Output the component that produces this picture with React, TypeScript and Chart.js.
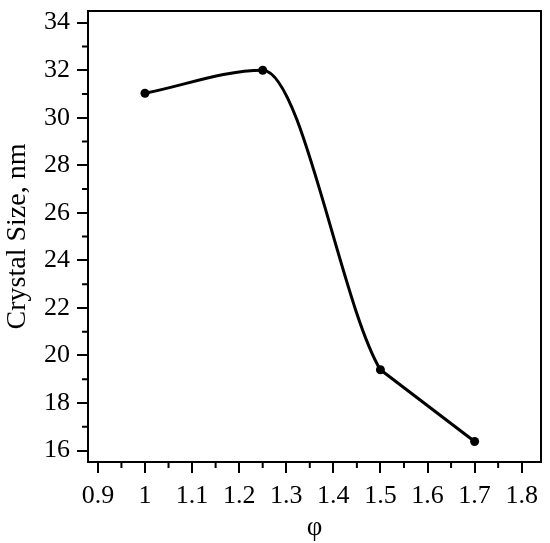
import React, { useEffect, useRef } from "react";
import { Chart, registerables } from "chart.js";

Chart.register(...registerables);

const phi = [1, 1.25, 1.5, 1.7];
const crystalSize = [31.03, 32.0, 19.4, 16.38];
const xMajorTicks = [0.9, 1.0, 1.1, 1.2, 1.3, 1.4, 1.5, 1.6, 1.7, 1.8];
const xMinorTicks = [0.95, 1.05, 1.15, 1.25, 1.35, 1.45, 1.55, 1.65, 1.75];
const yMajorTicks = [16, 18, 20, 22, 24, 26, 28, 30, 32, 34];
const yMinorTicks = [17, 19, 21, 23, 25, 27, 29, 31, 33];

const FONT = '"Liberation Serif", "Times New Roman", serif';

const frameAndMinorTicks = {
  id: "frameAndMinorTicks",
  afterDraw(chart: any) {
    const { ctx, chartArea, scales } = chart;
    const { left, right, top, bottom } = chartArea;
    ctx.save();
    ctx.strokeStyle = "#000";
    ctx.lineWidth = 2;
    ctx.beginPath();
    ctx.moveTo(left - 1, top);
    ctx.lineTo(right, top);
    ctx.lineTo(right, bottom);
    ctx.stroke();
    ctx.beginPath();
    for (const v of xMinorTicks) {
      const px = scales.x.getPixelForValue(v);
      ctx.moveTo(px, bottom);
      ctx.lineTo(px, bottom + 6);
    }
    for (const v of yMinorTicks) {
      const py = scales.y.getPixelForValue(v);
      ctx.moveTo(left, py);
      ctx.lineTo(left - 6, py);
    }
    ctx.stroke();
    ctx.restore();
  },
};

export default function App() {
  const ref = useRef<HTMLCanvasElement | null>(null);
  useEffect(() => {
    if (!ref.current) return;
    const pts = phi.map((x, i) => ({ x, y: crystalSize[i] }));
    const chart = new Chart(ref.current, {
      type: "line",
      data: {
        datasets: [
          {
            data: pts,
            borderColor: "#000",
            backgroundColor: "#000",
            borderWidth: 3,
            pointRadius: 4.5,
            pointBackgroundColor: "#000",
            pointBorderWidth: 0,
            cubicInterpolationMode: "monotone",
            segment: {
              borderColor: (c: any) => (c.p0DataIndex === phi.length - 2 ? "rgba(0,0,0,0)" : "#000"),
            },
          },
          {
            data: pts.slice(phi.length - 2),
            borderColor: "#000",
            borderWidth: 3,
            pointRadius: 0,
            tension: 0,
          },
        ],
      },
      options: {
        animation: false,
        responsive: true,
        maintainAspectRatio: false,
        layout: { padding: { top: 11, right: 9, left: 0, bottom: 0 } },
        plugins: { legend: { display: false }, tooltip: { enabled: false } },
        scales: {
          x: {
            type: "linear",
            min: 0.879,
            max: 1.841,
            afterBuildTicks: (s: any) => {
              s.ticks = xMajorTicks.map((v) => ({ value: v }));
            },
            afterFit: (s: any) => {
              s.height = 81;
              s.paddingLeft = 0;
              s.paddingRight = 0;
            },
            grid: { display: true, drawOnChartArea: false, drawTicks: true, tickLength: 11, color: "#000", lineWidth: 2 },
            border: { display: true, color: "#000", width: 2 },
            ticks: {
              color: "#000",
              padding: 10,
              maxRotation: 0,
              font: { family: FONT, size: 26, lineHeight: 1 },
              callback: (v: any) => String(Number(Number(v).toFixed(2))),
            },
            title: {
              display: true,
              text: "φ",
              color: "#000",
              font: { family: FONT, size: 27, lineHeight: 1 },
              padding: { top: 0, bottom: 2 },
            },
          },
          y: {
            type: "linear",
            min: 15.52,
            max: 34.49,
            afterBuildTicks: (s: any) => {
              s.ticks = yMajorTicks.map((v) => ({ value: v }));
            },
            afterFit: (s: any) => {
              s.width = 88;
              s.paddingTop = 0;
              s.paddingBottom = 0;
            },
            grid: { display: true, drawOnChartArea: false, drawTicks: true, tickLength: 11, color: "#000", lineWidth: 2 },
            border: { display: true, color: "#000", width: 2 },
            ticks: {
              color: "#000",
              padding: 7,
              font: { family: FONT, size: 26, lineHeight: 1 },
              callback: (v: any) => String(v),
            },
            title: {
              display: true,
              text: "Crystal Size, nm",
              color: "#000",
              font: { family: FONT, size: 28, lineHeight: 1 },
              padding: { top: 4, bottom: 0 },
            },
          },
        },
      },
      plugins: [frameAndMinorTicks],
    });
    return () => chart.destroy();
  }, []);
  return (
    <div style={{ position: "fixed", left: 0, top: 0, width: 550, height: 543, background: "#fff" }}>
      <canvas ref={ref} />
    </div>
  );
}
